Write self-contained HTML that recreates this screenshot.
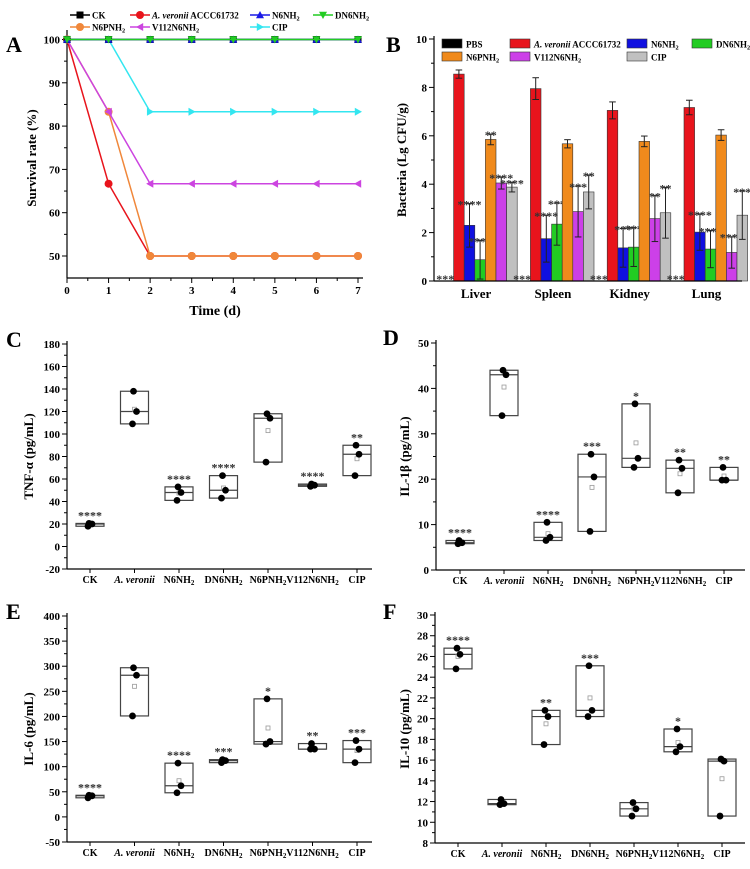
<!DOCTYPE html>
<html><head><meta charset="utf-8">
<style>
body{margin:0;background:#fff}
svg{display:block;font-family:"Liberation Serif",serif;font-weight:bold}
</style></head>
<body>
<svg id="fig" width="750" height="869" viewBox="0 0 750 869" xmlns="http://www.w3.org/2000/svg">
<text x="6" y="52" font-size="22">A</text>
<text x="386" y="52" font-size="22">B</text>
<text x="6" y="347" font-size="22">C</text>
<text x="383" y="345" font-size="22">D</text>
<text x="6" y="619" font-size="22">E</text>
<text x="383" y="619" font-size="22">F</text>
<g id="gA"></g>
<g id="gB"></g>
<g id="gC"></g>
<g id="gD"></g>
<g id="gE"></g>
<g id="gF"></g>
</svg>
<script>
// ---- Panel A data ----
const A_days=[0,1,2,3,4,5,6,7];
const A_names=["CK","A. veronii ACCC61732","N6NH2","DN6NH2","N6PNH2","V112N6NH2","CIP"];
const A_ck=[100,100,100,100,100,100,100,100];
const A_ver=[100,66.7,50,50,50,50,50,50];
const A_n6=[100,100,100,100,100,100,100,100];
const A_dn6=[100,100,100,100,100,100,100,100];
const A_n6p=[100,83.3,50,50,50,50,50,50];
const A_v112=[100,83.3,66.7,66.7,66.7,66.7,66.7,66.7];
const A_cip=[100,100,83.3,83.3,83.3,83.3,83.3,83.3];
const A_yticks=[50,60,70,80,90,100];
// ---- Panel B data ----
const B_organs=["Liver","Spleen","Kidney","Lung"];
const B_groups=["PBS","A. veronii ACCC61732","N6NH2","DN6NH2","N6PNH2","V112N6NH2","CIP"];
const B_pbs=[0,0,0,0], B_pbsErr=[0,0,0,0], B_pbsSig=["****","****","****","****"];
const B_ver=[8.55,7.95,7.05,7.17], B_verErr=[0.17,0.45,0.35,0.3], B_verSig=["","","",""];
const B_n6=[2.3,1.75,1.37,2.02], B_n6Err=[0.9,0.97,0.8,0.75], B_n6Sig=["****","****","***","****"];
const B_dn6=[0.88,2.35,1.4,1.32], B_dn6Err=[0.8,0.87,0.8,0.77], B_dn6Sig=["****","***","***","****"];
const B_n6p=[5.85,5.67,5.77,6.03], B_n6pErr=[0.22,0.17,0.22,0.22], B_n6pSig=["**","","",""];
const B_v112=[4.05,2.87,2.58,1.18], B_v112Err=[0.25,1.05,0.95,0.65], B_v112Sig=["****","***","**","****"];
const B_cip=[3.88,3.68,2.82,2.72], B_cipErr=[0.2,0.7,1.05,1.0], B_cipSig=["****","**","**","***"];
const B_yticks=[0,2,4,6,8,10];
// ---- Box panels data ----
const CATS=["CK","A. veronii","N6NH2","DN6NH2","N6PNH2","V112N6NH2","CIP"];
const C_pts=[[18,20,20.5],[109,120,138],[41,48,53],[43,50,63],[75,114,118],[53.5,54.5,55.5],[63,82,90]];
const C_mean=[19.5,122,47.5,52,103,54.5,78];
const C_sig=["****","","****","****","","****","**"];
const C_yticks=[-20,0,20,40,60,80,100,120,140,160,180];
const D_pts=[[5.8,6,6.5],[34,43,44],[6.5,7.2,10.5],[8.5,20.5,25.5],[22.6,24.6,36.6],[17,22.4,24.2],[19.8,19.8,22.6]];
const D_mean=[6.1,40.3,8,18.2,28,21.2,20.7];
const D_sig=["****","","****","***","*","**","**"];
const D_yticks=[0,10,20,30,40,50];
const E_pts=[[38,42,43],[201,282,297],[48,62,107],[108,112,114],[145,150,235],[135,135,146],[108,135,152]];
const E_mean=[41,260,72,111,177,139,132];
const E_sig=["****","","****","***","*","**","***"];
const E_yticks=[-50,0,50,100,150,200,250,300,350,400];
const F_pts=[[24.8,26.2,26.8],[11.7,11.8,12.2],[17.5,20.2,20.8],[20.2,20.8,25.1],[10.6,11.3,11.9],[16.8,17.3,19],[10.6,15.9,16.1]];
const F_mean=[26,11.9,19.5,22,11.3,17.7,14.2];
const F_sig=["****","","**","***","","*",""];
const F_yticks=[8,10,12,14,16,18,20,22,24,26,28,30];

const NS="http://www.w3.org/2000/svg";
function mk(p,t,a,txt){const e=document.createElementNS(NS,t);for(const k in a)e.setAttribute(k,a[k]);if(txt!==undefined)e.textContent=txt;p.appendChild(e);return e;}
function label(p,x,y,s,size,anchor){
  const t=mk(p,"text",{x:x,y:y,"font-size":size,"text-anchor":anchor||"middle"});
  const m=s.match(/^(A\. veronii)(.*)$/);
  if(m){mk(t,"tspan",{"font-style":"italic"},m[1]);if(m[2])mk(t,"tspan",{},m[2]);return t;}
  const parts=s.split(/(NH2)/);
  parts.forEach(pt=>{if(pt==="NH2"){mk(t,"tspan",{},"NH");mk(t,"tspan",{"font-size":size*0.7,dy:2},"2");mk(t,"tspan",{dy:-2},"");}else if(pt)mk(t,"tspan",{},pt);});
  return t;
}
function marker(p,type,x,y,c){
  const r=4;
  if(type==="sq")return mk(p,"rect",{x:x-3.5,y:y-3.5,width:7,height:7,fill:c});
  if(type==="ci")return mk(p,"circle",{cx:x,cy:y,r:r,fill:c});
  let pts;
  if(type==="up")pts=[[x,y-r],[x-r,y+r*0.8],[x+r,y+r*0.8]];
  if(type==="dn")pts=[[x,y+r],[x-r,y-r*0.8],[x+r,y-r*0.8]];
  if(type==="lt")pts=[[x-r,y],[x+r*0.8,y-r],[x+r*0.8,y+r]];
  if(type==="rt")pts=[[x+r,y],[x-r*0.8,y-r],[x-r*0.8,y+r]];
  return mk(p,"polygon",{points:pts.map(q=>q.join(",")).join(" "),fill:c});
}

// ---- Panel A ----
(function(){
  const g=document.getElementById("gA");
  const X=d=>67+d*(358-67)/7, Y=v=>256-(v-50)*(256-39.5)/50;
  mk(g,"line",{x1:67,y1:30,x2:67,y2:278,stroke:"#000","stroke-width":1.2});
  mk(g,"line",{x1:67,y1:278,x2:363,y2:278,stroke:"#000","stroke-width":1.2});
  A_yticks.forEach(v=>{mk(g,"line",{x1:62,y1:Y(v),x2:67,y2:Y(v),stroke:"#000"});label(g,60,Y(v)+4,String(v),11,"end");});
  [55,65,75,85,95].forEach(v=>mk(g,"line",{x1:64,y1:Y(v),x2:67,y2:Y(v),stroke:"#000"}));
  A_days.forEach(d=>{mk(g,"line",{x1:X(d),y1:278,x2:X(d),y2:283,stroke:"#000"});if(d<7)mk(g,"line",{x1:X(d+0.5),y1:278,x2:X(d+0.5),y2:281,stroke:"#000"});label(g,X(d),294,String(d),11);});
  const yl=label(g,0,0,"Survival rate (%)",13);yl.setAttribute("transform","translate(36,158) rotate(-90)");
  label(g,215,315,"Time (d)",14);
  const series=[[A_ver,"#e8141c","ci"],[A_n6p,"#f0873a","ci"],[A_v112,"#cc44e0","lt"],[A_cip,"#33e6f0","rt"],[A_ck,"#000","sq"],[A_n6,"#1a1ae6","up"],[A_dn6,"#22cc22","dn"]];
  series.forEach(s=>{
    const pl=mk(g,"polyline",{points:s[0].map((v,i)=>X(A_days[i])+","+Y(v)).join(" "),fill:"none",stroke:s[1],"stroke-width":1.5});
    
    
    s[0].forEach((v,i)=>marker(g,s[2],X(A_days[i]),Y(v),s[1]));
  });
  const leg=[["CK","#000","sq",70,15],["A. veronii ACCC61732","#e8141c","ci",130,15],["N6NH2","#1a1ae6","up",250,15],["DN6NH2","#22cc22","dn",313,15],["N6PNH2","#f0873a","ci",70,27],["V112N6NH2","#cc44e0","lt",130,27],["CIP","#33e6f0","rt",250,27]];
  leg.forEach(l=>{const lg=mk(g,"g",{});
    mk(lg,"line",{x1:l[3],y1:l[4],x2:l[3]+20,y2:l[4],stroke:l[1],"stroke-width":1.5});marker(lg,l[2],l[3]+10,l[4],l[1]);label(lg,l[3]+22,l[4]+3.5,l[0],9,"start");});
})();

// ---- Panel B ----
(function(){
  const g=document.getElementById("gB");
  const Y=v=>281-v*24.2, x0=434;
  const series=[[B_pbs,B_pbsErr,B_pbsSig,"#000"],[B_ver,B_verErr,B_verSig,"#e8141c"],[B_n6,B_n6Err,B_n6Sig,"#1010e0"],[B_dn6,B_dn6Err,B_dn6Sig,"#22cc22"],[B_n6p,B_n6pErr,B_n6pSig,"#f08a1c"],[B_v112,B_v112Err,B_v112Sig,"#cc40e8"],[B_cip,B_cipErr,B_cipSig,"#c0c0c0"]];
  const bw=10.6, gx=i=>443+i*76.8;
  B_organs.forEach((o,i)=>{
    series.forEach((s,j)=>{
      const x=gx(i)+j*bw, v=s[0][i], e=s[1][i];
      const b=mk(g,"rect",{x:x,y:Y(v),width:bw,height:Y(0)-Y(v),fill:s[3],stroke:"#333","stroke-width":0.6});
      
      if(e>0){mk(g,"line",{x1:x+bw/2,y1:Y(v-e),x2:x+bw/2,y2:Y(v+e),stroke:"#222","stroke-width":1});
        mk(g,"line",{x1:x+2,y1:Y(v+e),x2:x+bw-2,y2:Y(v+e),stroke:"#222"});mk(g,"line",{x1:x+2,y1:Y(v-e),x2:x+bw-2,y2:Y(v-e),stroke:"#222"});}
      if(s[2][i]){const t=label(g,x+bw/2,Y(v+e)+(v===0?2:5),s[2][i],12);t.setAttribute("fill","#333");}
    });
    label(g,gx(i)+3.5*bw-4,298,o,13);
  });
  mk(g,"line",{x1:x0,y1:36,x2:x0,y2:281,stroke:"#000","stroke-width":1.2});
  mk(g,"line",{x1:x0,y1:281,x2:742,y2:281,stroke:"#000","stroke-width":1.2});
  B_yticks.forEach(v=>{mk(g,"line",{x1:x0-5,y1:Y(v),x2:x0,y2:Y(v),stroke:"#000"});label(g,x0-7,Y(v)+4,String(v),11,"end");});
  [1,3,5,7,9].forEach(v=>mk(g,"line",{x1:x0-3,y1:Y(v),x2:x0,y2:Y(v),stroke:"#000"}));
  const yl=label(g,0,0,"Bacteria (Lg CFU/g)",13);yl.setAttribute("transform","translate(406,160) rotate(-90)");
  const pos=[[442,44],[510,44],[627,44],[692,44],[442,57],[510,57],[627,57]];
  B_groups.forEach((n,j)=>{const lg=mk(g,"g",{});
    mk(lg,"rect",{x:pos[j][0],y:pos[j][1]-5,width:20,height:9,fill:series[j][3],stroke:"#333","stroke-width":0.6});label(lg,pos[j][0]+24,pos[j][1]+3.5,n,9,"start");});
})();

// ---- Box panels ----
function boxPanel(id,pts,means,sig,ticks,cfg){
  const g=document.getElementById(id);
  const lo=ticks[0],hi=ticks[ticks.length-1];
  const Y=v=>cfg.yb-(v-lo)*(cfg.yb-cfg.yt)/(hi-lo);
  const X=i=>cfg.c0+i*cfg.step;
  mk(g,"line",{x1:cfg.x0,y1:cfg.yt-3,x2:cfg.x0,y2:cfg.yb,stroke:"#000","stroke-width":1.2});
  mk(g,"line",{x1:cfg.x0,y1:cfg.yb,x2:cfg.xe,y2:cfg.yb,stroke:"#000","stroke-width":1.2});
  ticks.forEach((v,k)=>{mk(g,"line",{x1:cfg.x0-5,y1:Y(v),x2:cfg.x0,y2:Y(v),stroke:"#000"});label(g,cfg.x0-7,Y(v)+4,String(v),11,"end");
    if(k<ticks.length-1){const m=(v+ticks[k+1])/2;mk(g,"line",{x1:cfg.x0-3,y1:Y(m),x2:cfg.x0,y2:Y(m),stroke:"#000"});}});
  const yl=label(g,0,0,cfg.ylab,13);yl.setAttribute("transform","translate("+cfg.ylx+","+(cfg.yt+cfg.yb)/2+") rotate(-90)");
  const jit=[-2,2,-1];
  CATS.forEach((c,i)=>{
    const x=X(i), p=pts[i], mn=Math.min(...p), mx=Math.max(...p), med=p.slice().sort((a,b)=>a-b)[1];
    mk(g,"line",{x1:x,y1:cfg.yb,x2:x,y2:cfg.yb+4,stroke:"#000"});
    const bx=mk(g,"rect",{x:x-14,y:Y(mx),width:28,height:Math.max(Y(mn)-Y(mx),1.5),fill:"none",stroke:"#444","stroke-width":1.2});
    
    mk(g,"line",{x1:x-14,y1:Y(med),x2:x+14,y2:Y(med),stroke:"#444","stroke-width":1.2});
    mk(g,"rect",{x:x-2,y:Y(means[i])-2,width:4,height:4,fill:"none",stroke:"#999","stroke-width":0.8});
    p.forEach((v,k)=>{const d=mk(g,"circle",{cx:x+jit[k],cy:Y(v),r:3.4,fill:"#000"});});
    if(sig[i])label(g,x,Y(mx)-4,sig[i],12).setAttribute("fill","#333");
    label(g,x,cfg.yb+14,c,10);
  });
}
boxPanel("gC",C_pts,C_mean,C_sig,C_yticks,{x0:67,xe:372,yt:344,yb:569,c0:90,step:44.5,ylab:"TNF-α (pg/mL)",ylx:33});
boxPanel("gD",D_pts,D_mean,D_sig,D_yticks,{x0:436,xe:745,yt:343,yb:570,c0:460,step:44,ylab:"IL-1β (pg/mL)",ylx:409});
boxPanel("gE",E_pts,E_mean,E_sig,E_yticks,{x0:67,xe:372,yt:616,yb:842,c0:90,step:44.5,ylab:"IL-6 (pg/mL)",ylx:33});
boxPanel("gF",F_pts,F_mean,F_sig,F_yticks,{x0:435,xe:745,yt:615,yb:843,c0:458,step:44,ylab:"IL-10 (pg/mL)",ylx:409});
</script>
</body></html>
